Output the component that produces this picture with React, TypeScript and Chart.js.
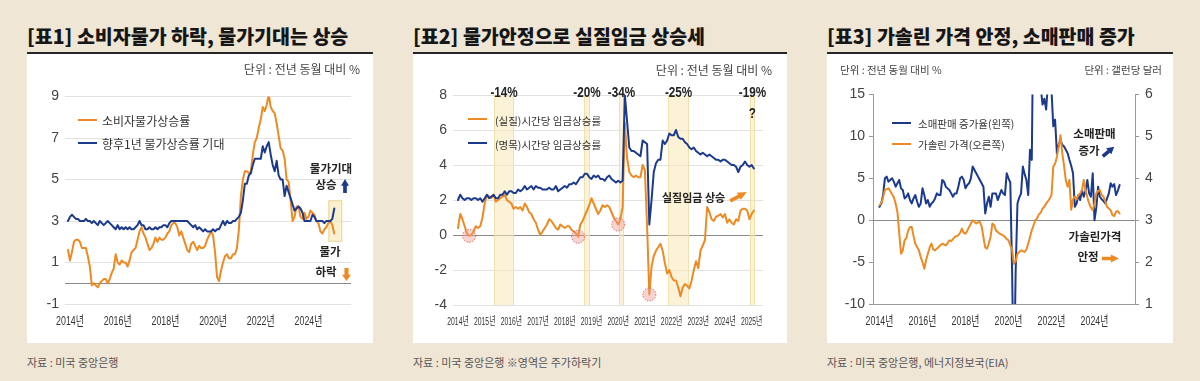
import React, { useEffect, useRef } from "react";
import { Chart, registerables } from "chart.js";
Chart.register(...registerables);

// ---------------- DATA ----------------
// Panel 1: monthly, Jan 2014 .. Mar 2025
const cpiYoY = [
  1.6, 1.1, 1.5, 2.0, 2.1, 2.1, 2.0, 1.7, 1.7, 1.7, 1.3, 0.8,
  -0.1, 0.0, -0.1, -0.2, 0.0, 0.1, 0.2, 0.2, 0.0, 0.2, 0.5, 0.7,
  1.4, 1.0, 0.9, 1.1, 1.0, 1.0, 0.8, 1.1, 1.5, 1.6, 1.7, 2.1,
  2.5, 2.7, 2.4, 2.2, 1.9, 1.6, 1.7, 1.9, 2.2, 2.0, 2.2, 2.1,
  2.1, 2.2, 2.4, 2.5, 2.8, 2.9, 2.9, 2.7, 2.3, 2.5, 2.2, 1.9,
  1.6, 1.5, 1.9, 2.0, 1.8, 1.6, 1.8, 1.7, 1.7, 1.8, 2.1, 2.3,
  2.5, 2.3, 1.5, 0.3, 0.1, 0.6, 1.0, 1.3, 1.4, 1.2, 1.2, 1.4,
  1.4, 1.7, 2.6, 4.2, 5.0, 5.4, 5.4, 5.3, 5.4, 6.2, 6.8, 7.0,
  7.5, 7.9, 8.5, 8.3, 8.6, 9.1, 8.5, 8.3, 8.2, 7.7, 7.1, 6.5,
  6.4, 6.0, 5.0, 4.9, 4.0, 3.0, 3.2, 3.7, 3.7, 3.2, 3.1, 3.4,
  3.1, 3.2, 3.5, 3.4, 3.3, 3.0, 2.9, 2.5, 2.4, 2.6, 2.7, 2.9,
  3.0, 2.8, 2.4,
];
const inflExpect1y = [
  3.0, 3.2, 3.3, 3.2, 3.1, 3.1, 3.0, 3.0, 3.0, 3.1, 3.0, 3.0,
  2.9, 3.0, 2.9, 2.8, 3.0, 2.9, 2.8, 2.9, 3.0, 2.9, 2.8, 2.7,
  2.6, 2.8, 2.6, 2.7, 2.6, 2.7, 2.6, 2.7, 2.6, 2.6, 2.7, 2.8,
  3.0, 2.8, 2.8, 2.6, 2.6, 2.7, 2.6, 2.6, 2.7, 2.6, 2.7, 2.7,
  2.8, 2.8, 2.7, 2.9, 3.0, 3.0, 3.0, 3.0, 3.0, 3.0, 3.0, 3.0,
  3.0, 2.9, 2.8, 2.7, 2.8, 2.6, 2.7, 2.6, 2.5, 2.6, 2.5, 2.5,
  2.5, 2.6, 2.5, 2.6, 2.6, 2.8, 3.0, 2.8, 3.0, 2.9, 2.9, 3.0,
  3.0, 3.1, 3.2, 3.4, 4.0, 4.8, 4.8, 5.2, 5.3, 5.7, 6.0, 6.0,
  6.0, 6.0, 6.6, 6.3, 6.6, 6.8, 6.2, 5.7, 5.4, 5.9, 5.2, 5.0,
  5.0, 4.2, 4.7, 4.4, 4.1, 3.8, 3.5, 3.6, 3.7, 3.6, 3.4, 3.0,
  3.0, 3.0, 3.0, 3.3, 3.2, 3.0, 3.0, 3.0, 3.0, 2.9, 3.0, 3.0,
  3.0, 3.1, 3.6,
];
const p1TickYears = [2014, 2016, 2018, 2020, 2022, 2024];
const p1BoxMonths = [131, 138];
const p1BoxValues = [2.0, 4.0];

// Panel 2: monthly, Jan 2014 .. Feb 2025
const realWage = [
  0.4, 1.2, 0.9, 0.5, 0.1, -0.05, 0.0, 0.2, 0.5, 0.4, 0.5, 1.0,
  1.8, 2.3, 2.2, 2.1, 2.3, 1.9, 2.0, 2.1, 2.2, 2.3, 2.0, 1.9,
  1.8, 1.5, 1.6, 1.5, 1.6, 1.4, 1.8, 1.6, 1.3, 1.2, 0.9, 0.7,
  0.3, 0.0, 0.2, 0.4, 0.6, 0.9, 0.8, 0.6, 0.4, 0.3, 0.6, 0.5,
  0.4, 0.5, 0.5, 0.3, 0.2, 0.1, -0.1, 0.6, 0.8, 1.1, 1.4, 1.7,
  2.1, 1.8, 1.5, 1.2, 1.4, 1.7, 1.6, 1.7, 1.6, 1.3, 1.0, 0.8,
  0.6, 0.9, 1.6, 6.4, 4.4, 3.6, 3.4, 3.3, 3.4, 3.3, 3.3, 4.0,
  3.7, 0.5, -3.4, -1.8, -1.2, -0.9, -0.7, -0.5, -0.9, -1.6, -2.2, -2.0,
  -2.4, -2.6, -2.6, -3.0, -3.5, -3.0, -2.8, -2.9, -3.05, -2.6, -2.0, -1.5,
  -1.9, -0.9, -0.6, -0.3, 1.6, 1.3, 0.9, 0.8, 1.05, 1.1, 1.2, 1.0,
  1.2, 0.7, 0.9, 0.7, 0.6, 0.9, 0.8, 1.4, 1.5, 1.5, 1.4, 0.9,
  1.2, 1.4,
];
const nominalWage = [
  2.0, 2.3, 2.1, 2.0, 2.1, 2.1, 2.0, 2.1, 2.1, 2.0, 2.1, 1.9,
  2.1, 2.3, 2.1, 2.2, 2.3, 2.1, 2.1, 2.3, 2.3, 2.5, 2.3, 2.5,
  2.5, 2.4, 2.4, 2.6, 2.5, 2.6, 2.8, 2.6, 2.7, 2.8, 2.6, 2.8,
  2.7, 2.7, 2.6, 2.6, 2.6, 2.7, 2.6, 2.6, 2.8, 2.5, 2.6, 2.7,
  2.8, 2.7, 2.9, 2.9, 3.0, 2.9, 3.1, 3.3, 3.3, 3.5, 3.5, 3.3,
  3.2, 3.4, 3.3, 3.4, 3.2, 3.2, 3.1, 3.3, 3.4, 3.2, 3.1, 3.0,
  3.1, 3.0, 3.1, 8.0, 6.5, 5.0, 4.8, 4.8, 4.7, 4.6, 4.5, 5.4,
  5.3, 5.2, 0.6, 2.0, 3.6, 4.1, 4.3, 4.3, 5.4, 5.2, 5.4, 5.8,
  5.7, 5.7, 6.0, 5.6, 5.5, 5.5, 5.3, 5.2, 5.0, 4.9, 5.0, 4.8,
  4.7, 4.6, 4.7, 4.6, 4.5, 4.6, 4.5, 4.4, 4.3, 4.3, 4.2, 4.3,
  4.3, 4.2, 4.1, 4.0, 4.0, 3.9, 3.6, 3.9, 4.0, 4.2, 4.0, 3.9,
  4.0, 3.8,
];
const p2TickYears = [2014, 2015, 2016, 2017, 2018, 2019, 2020, 2021, 2022, 2023, 2024, 2025];
const crashStart = [16.2, 56.6, 72.4, 94.5, 131.2];
const crashEnd = [25.2, 59.3, 74.6, 103.8, 133.5];
const crashLabels = ["-14%", "-20%", "-34%", "-25%", "-19%"];
const crashNotes = ["", "", "", "", "?"];
const troughMonths = [5, 54, 72, 86];

// Panel 3: monthly, Jan 2014 .. Mar 2025
const retailYoY = [
  1.6, 2.0, 3.0, 5.0, 5.2, 4.6, 4.8, 5.0, 4.6, 4.0, 4.4, 4.8,
  3.8, 3.6, 2.6, 2.8, 3.2, 2.4, 2.0, 2.6, 3.0, 2.2, 1.6, 2.0,
  3.8, 3.0, 2.0, 2.4, 1.6, 2.0, 2.2, 2.6, 3.2, 3.0, 3.0, 4.8,
  4.6, 4.0, 3.8, 3.6, 3.2, 2.8, 3.2, 3.2, 4.0, 5.0, 5.2, 4.8,
  3.8, 4.2, 4.4, 5.0, 6.4, 6.0, 5.6, 5.2, 4.8, 4.4, 4.0, 0.8,
  2.0, 2.8, 1.6, 3.2, 3.2, 3.2, 2.4, 3.0, 3.6, 3.2, 3.0, 5.6,
  5.0, 4.5, -6.0, -20.0, -6.0, 2.0, 2.7, 3.2, 6.4, 5.5, 4.8, 3.0,
  8.4, 7.2, 28.0, 51.0, 28.0, 18.0, 15.8, 13.8, 14.5, 13.2, 16.3, 17.0,
  15.5, 11.2, 12.0, 8.0, 9.0, 9.6, 9.0, 8.8, 8.4, 8.0, 7.2, 6.5,
  5.6, 1.6, 2.0, 3.0, 2.4, 3.6, 2.8, 3.5, 4.8, 3.2, 2.8, 5.6,
  0.0, 1.5, 4.0, 2.8, 2.5, 2.3, 2.0, 2.6, 3.2, 4.4, 4.0, 4.3,
  3.0, 3.5, 4.2,
];
const gasPrice = [
  3.36, 3.40, 3.55, 3.72, 3.74, 3.76, 3.70, 3.62, 3.55, 3.40, 3.20, 2.70,
  2.20, 2.28, 2.52, 2.58, 2.75, 2.84, 2.84, 2.62, 2.44, 2.36, 2.28, 2.12,
  2.00, 1.84, 2.05, 2.20, 2.35, 2.44, 2.30, 2.28, 2.32, 2.36, 2.40, 2.44,
  2.42, 2.40, 2.45, 2.52, 2.50, 2.55, 2.60, 2.62, 2.64, 2.70, 2.80, 2.70,
  2.68, 2.75, 2.84, 2.92, 3.00, 2.96, 2.92, 2.95, 2.96, 2.85, 2.60, 2.35,
  2.32, 2.45, 2.60, 2.92, 2.88, 2.75, 2.72, 2.68, 2.66, 2.64, 2.60, 2.55,
  2.52, 2.40, 2.30, 1.96, 2.02, 2.20, 2.24, 2.28, 2.26, 2.24, 2.30, 2.44,
  2.60, 2.76, 2.88, 3.00, 3.05, 3.14, 3.18, 3.28, 3.32, 3.40, 3.45, 3.52,
  3.60, 4.28, 4.35, 4.51, 4.75, 5.03, 4.60, 4.30, 3.95, 3.80, 3.96, 3.25,
  3.50, 3.56, 3.50, 3.60, 3.64, 3.72, 3.96, 3.72, 3.55, 3.40, 3.30, 3.24,
  3.40, 3.64, 3.70, 3.72, 3.60, 3.56, 3.45, 3.32, 3.28, 3.24, 3.12, 3.10,
  3.20, 3.22, 3.16,
];
const p3TickYears = [2014, 2016, 2018, 2020, 2022, 2024];

// ---------------- STYLE ----------------
const BG = "#EFE6D6";
const ORANGE = "#EC8A23";
const BLUE = "#1B3A8C";
const KR = '"Noto Sans CJK KR", "Noto Sans", sans-serif';
const NUM = '"Liberation Sans", Arial, sans-serif';
const NUM_KR = '"Liberation Sans", "Noto Sans CJK KR", sans-serif';

const toPoints = (arr: number[]) => arr.map((y, i) => ({ x: i, y }));

function zeroLine(scaleId: string, color: string) {
  return {
    id: "zeroLine",
    beforeDatasetsDraw(chart: any) {
      const { ctx, chartArea } = chart;
      const y = Math.round(chart.scales[scaleId].getPixelForValue(0)) + 0.5;
      ctx.save();
      ctx.strokeStyle = color;
      ctx.lineWidth = 1;
      ctx.beginPath();
      ctx.moveTo(chartArea.left, y);
      ctx.lineTo(chartArea.right, y);
      ctx.stroke();
      ctx.restore();
    },
  };
}

// condensed year tick labels, placed by the x scale
function yearLabels(years: number[], toMonth: (y: number) => number, size: number, sx: number, offset: number) {
  return {
    id: "yearLabels",
    afterDraw(chart: any) {
      const { ctx, chartArea, scales } = chart;
      ctx.save();
      ctx.font = `${size}px ${NUM_KR}`;
      ctx.fillStyle = "#333";
      ctx.textAlign = "center";
      ctx.textBaseline = "middle";
      years.forEach((y) => {
        const px = scales.x.getPixelForValue(toMonth(y));
        ctx.save();
        ctx.translate(px, chartArea.bottom + offset);
        ctx.scale(sx, 1);
        ctx.fillText(`${y}년`, 0, 0);
        ctx.restore();
      });
      ctx.restore();
    },
  };
}

function xAxis(min: number, max: number, height: number, border = false) {
  return {
    type: "linear",
    min,
    max,
    ticks: { display: false },
    grid: { display: false, drawTicks: false },
    border: { display: border, color: "#9a9a9a", width: 1 },
    afterFit: (s: any) => {
      s.height = height;
    },
  };
}

function Txt(props: any) {
  const { x, y, s, w = 400, a = "left", c = "#222", f = KR, k = 0.66, children } = props;
  const style: any = {
    position: "absolute",
    top: y - s * k,
    fontSize: s,
    fontWeight: w,
    color: c,
    fontFamily: f,
    lineHeight: `${s * 1.2}px`,
    whiteSpace: "nowrap",
  };
  if (a === "left") style.left = x;
  else if (a === "right") style.right = 1200 - x;
  else {
    style.left = x;
    style.transform = "translateX(-50%)";
  }
  return <div style={style}>{children}</div>;
}

function Arrow({ cx, cy, len, wid, angle, color }: any) {
  const s = Math.max(len, wid) + 6;
  const L = len, H = wid, sh = H * 0.46, hd = L * 0.48;
  const pts = [
    [-L / 2, -sh / 2], [L / 2 - hd, -sh / 2], [L / 2 - hd, -H / 2], [L / 2, 0],
    [L / 2 - hd, H / 2], [L / 2 - hd, sh / 2], [-L / 2, sh / 2],
  ];
  return (
    <svg style={{ position: "absolute", left: cx - s / 2, top: cy - s / 2 }} width={s} height={s} viewBox={`${-s / 2} ${-s / 2} ${s} ${s}`}>
      <polygon points={pts.map((p) => p.join(",")).join(" ")} fill={color} transform={`rotate(${angle})`} />
    </svg>
  );
}

function LegendLine({ x, y, w, color }: any) {
  return <div style={{ position: "absolute", left: x, top: y - 1.25, width: w, height: 2.5, background: color }} />;
}

function Frame({ x, w, title }: any) {
  return (
    <>
      <Txt x={x} y={36.5} s={19.5} w={800} c="#161616">{title}</Txt>
      <div style={{ position: "absolute", left: x, top: 52, width: w, height: 2, background: "#262626" }} />
      <div style={{ position: "absolute", left: x, top: 54, width: w, height: 289, background: "#ffffff" }} />
    </>
  );
}

export default function App() {
  const c1 = useRef<HTMLCanvasElement>(null);
  const c2 = useRef<HTMLCanvasElement>(null);
  const c3 = useRef<HTMLCanvasElement>(null);

  useEffect(() => {
    const common = {
      animation: false,
      responsive: false,
      maintainAspectRatio: false,
      devicePixelRatio: 1,
      plugins: { legend: { display: false }, tooltip: { enabled: false } },
      elements: { point: { radius: 0 }, line: { tension: 0, borderJoinStyle: "round", borderCapStyle: "round" } },
    };

    // ---- Panel 1 ----
    const boxPlugin = {
      id: "boxPlugin",
      beforeDatasetsDraw(chart: any) {
        const { ctx, scales } = chart;
        const x0 = scales.x.getPixelForValue(p1BoxMonths[0]);
        const x1 = scales.x.getPixelForValue(p1BoxMonths[1]);
        const y0 = scales.y.getPixelForValue(p1BoxValues[1]);
        const y1 = scales.y.getPixelForValue(p1BoxValues[0]);
        ctx.save();
        ctx.fillStyle = "rgba(248,236,196,0.8)";
        ctx.fillRect(x0, y0, x1 - x0, y1 - y0);
        ctx.strokeStyle = "rgba(232,212,150,0.9)";
        ctx.lineWidth = 1;
        ctx.strokeRect(x0 + 0.5, y0 + 0.5, x1 - x0 - 1, y1 - y0 - 1);
        ctx.restore();
      },
    };
    const ch1 = new Chart(c1.current as any, {
      type: "line",
      data: {
        datasets: [
          { data: toPoints(inflExpect1y), borderColor: BLUE, borderWidth: 2 },
          { data: toPoints(cpiYoY), borderColor: ORANGE, borderWidth: 2 },
        ],
      },
      options: {
        ...common,
        layout: { padding: { left: 0, right: 22, top: 42.5, bottom: 0 } },
        scales: {
          x: xAxis(-1.5, 142.4, 39),
          y: {
            min: -1, max: 9,
            ticks: { stepSize: 2, color: "#444", font: { family: NUM, size: 14 }, padding: 6 },
            grid: { color: "#e2e2e2", drawTicks: false },
            border: { display: false },
            afterFit: (s: any) => { s.width = 38; },
          },
        },
      } as any,
      plugins: [zeroLine("y", "#8a8a8a"), boxPlugin, yearLabels(p1TickYears, (y) => (y - 2014) * 12 + 1, 13, 0.68, 17.5)],
    } as any);

    // ---- Panel 2 ----
    const bandPlugin = {
      id: "bandPlugin",
      beforeDatasetsDraw(chart: any) {
        const { ctx, scales, chartArea } = chart;
        ctx.save();
        crashStart.forEach((s, i) => {
          const x0 = scales.x.getPixelForValue(s);
          const x1 = scales.x.getPixelForValue(crashEnd[i]);
          ctx.fillStyle = "rgba(247,232,182,0.55)";
          ctx.fillRect(x0, chartArea.top, x1 - x0, chartArea.bottom - chartArea.top);
          ctx.strokeStyle = "rgba(238,220,160,0.8)";
          ctx.lineWidth = 1;
          ctx.beginPath();
          ctx.moveTo(Math.round(x0) + 0.5, chartArea.top);
          ctx.lineTo(Math.round(x0) + 0.5, chartArea.bottom);
          ctx.moveTo(Math.round(x1) - 0.5, chartArea.top);
          ctx.lineTo(Math.round(x1) - 0.5, chartArea.bottom);
          ctx.stroke();
        });
        ctx.restore();
      },
      afterDatasetsDraw(chart: any) {
        const { ctx, scales, chartArea } = chart;
        ctx.save();
        troughMonths.forEach((m) => {
          const x = scales.x.getPixelForValue(m);
          const y = scales.y.getPixelForValue(realWage[m]);
          ctx.beginPath();
          ctx.arc(x, y, 6.5, 0, Math.PI * 2);
          ctx.fillStyle = "rgba(238,150,140,0.42)";
          ctx.fill();
          ctx.setLineDash([1.2, 1.6]);
          ctx.strokeStyle = "#d9534f";
          ctx.lineWidth = 1;
          ctx.stroke();
          ctx.setLineDash([]);
        });
        ctx.fillStyle = "#222";
        ctx.textAlign = "center";
        ctx.textBaseline = "middle";
        ctx.font = `bold 15px ${NUM}`;
        crashStart.forEach((s, i) => {
          const xc = (scales.x.getPixelForValue(s) + scales.x.getPixelForValue(crashEnd[i])) / 2;
          ctx.save();
          ctx.translate(xc, chartArea.top - 2);
          ctx.scale(0.78, 1);
          ctx.fillText(crashLabels[i], 0, 0);
          if (crashNotes[i]) ctx.fillText(crashNotes[i], 0, 21);
          ctx.restore();
        });
        ctx.restore();
      },
    };
    const ch2 = new Chart(c2.current as any, {
      type: "line",
      data: {
        datasets: [
          { data: toPoints(nominalWage), borderColor: BLUE, borderWidth: 2 },
          { data: toPoints(realWage), borderColor: ORANGE, borderWidth: 2 },
        ],
      },
      options: {
        ...common,
        layout: { padding: { left: 0, right: 24, top: 41, bottom: 0 } },
        scales: {
          x: xAxis(-2.25, 137.1, 38),
          y: {
            min: -4, max: 8,
            ticks: { stepSize: 2, color: "#444", font: { family: NUM, size: 14 }, padding: 6 },
            grid: { color: (c: any) => (c.tick && c.tick.value === 0 ? "#8a8a8a" : "#e2e2e2"), drawTicks: false },
            border: { display: false },
            afterFit: (s: any) => { s.width = 40; },
          },
        },
      } as any,
      plugins: [bandPlugin, yearLabels(p2TickYears, (y) => (y - 2014) * 12, 11, 0.62, 16.7)],
    } as any);

    // ---- Panel 3 ----
    const ch3 = new Chart(c3.current as any, {
      type: "line",
      data: {
        datasets: [
          { data: toPoints(gasPrice), borderColor: ORANGE, borderWidth: 2, yAxisID: "y2" },
          { data: toPoints(retailYoY), borderColor: BLUE, borderWidth: 2, yAxisID: "y" },
        ],
      },
      options: {
        ...common,
        layout: { padding: { left: 0, right: 0, top: 40.5, bottom: 0 } },
        scales: {
          x: xAxis(-3.63, 142.6, 39, true),
          y: {
            position: "left",
            min: -10, max: 15,
            ticks: { stepSize: 5, color: "#444", font: { family: NUM, size: 14 }, padding: 4 },
            grid: { drawOnChartArea: false, drawTicks: true, tickLength: 4, color: "#9a9a9a" },
            border: { display: true, color: "#9a9a9a", width: 1 },
            afterFit: (s: any) => { s.width = 46; },
          },
          y2: {
            position: "right",
            min: 1, max: 6,
            ticks: { stepSize: 1, color: "#444", font: { family: NUM, size: 14 }, padding: 6 },
            grid: { drawOnChartArea: false, drawTicks: true, tickLength: 4, color: "#9a9a9a" },
            border: { display: true, color: "#9a9a9a", width: 1 },
            afterFit: (s: any) => { s.width = 38; },
          },
        },
      } as any,
      plugins: [zeroLine("y", "#8a8a8a"), yearLabels(p3TickYears, (y) => (y - 2014) * 12, 13, 0.68, 17.7)],
    } as any);

    return () => {
      ch1.destroy();
      ch2.destroy();
      ch3.destroy();
    };
  }, []);

  const cv = (left: number, width: number) => ({ position: "absolute" as const, left, top: 54, width, height: 289 });

  return (
    <div style={{ position: "absolute", left: 0, top: 0, width: 1200, height: 381, background: BG, overflow: "hidden", fontFamily: KR }}>
      {/* Panel 1 */}
      <Frame x={27} w={346} title="[표1] 소비자물가 하락, 물가기대는 상승" />
      <canvas ref={c1} width={346} height={289} style={cv(27, 346)} />
      <Txt x={360} y={70} s={12} a="right" c="#444">단위 : 전년 동월 대비 %</Txt>
      <LegendLine x={78} y={120} w={19} color={ORANGE} />
      <Txt x={102} y={121.5} s={12} c="#333">소비자물가상승률</Txt>
      <LegendLine x={78} y={143} w={19} color={BLUE} />
      <Txt x={102} y={144.5} s={12} c="#333">향후1년 물가상승률 기대</Txt>
      <Txt x={331} y={170} s={11.5} w={700} a="center">물가기대</Txt>
      <Txt x={326} y={186} s={11.5} w={700} a="center">상승</Txt>
      <Arrow cx={344.5} cy={186} len={14} wid={8} angle={-90} color={BLUE} />
      <Txt x={330} y={253} s={11.5} w={700} a="center">물가</Txt>
      <Txt x={326} y={273} s={11.5} w={700} a="center">하락</Txt>
      <Arrow cx={346} cy={274} len={13} wid={9} angle={90} color={ORANGE} />
      <Txt x={27} y={363} s={11} c="#555">자료 : 미국 중앙은행</Txt>

      {/* Panel 2 */}
      <Frame x={413} w={374} title="[표2] 물가안정으로 실질임금 상승세" />
      <canvas ref={c2} width={374} height={289} style={cv(413, 374)} />
      <Txt x={772} y={71} s={12} a="right" c="#444">단위 : 전년 동월 대비 %</Txt>
      <LegendLine x={468} y={119} w={19} color={ORANGE} />
      <Txt x={495} y={122} s={10.5} c="#333">(실질)시간당 임금상승률</Txt>
      <LegendLine x={468} y={143} w={19} color={BLUE} />
      <Txt x={495} y={146} s={10.5} c="#333">(명목)시간당 임금상승률</Txt>
      <Txt x={662} y={198} s={11} w={700}>실질임금 상승</Txt>
      <Arrow cx={738} cy={196} len={19} wid={8} angle={-28} color={ORANGE} />
      <Txt x={413} y={363} s={11} c="#555">자료 : 미국 중앙은행 ※영역은 주가하락기</Txt>

      {/* Panel 3 */}
      <Frame x={827} w={346} title="[표3] 가솔린 가격 안정, 소매판매 증가" />
      <canvas ref={c3} width={346} height={289} style={cv(827, 346)} />
      <Txt x={840} y={71} s={10.5} c="#444">단위 : 전년 동월 대비 %</Txt>
      <Txt x={1162} y={71} s={10.5} a="right" c="#444">단위 : 갤런당 달러</Txt>
      <LegendLine x={892} y={123} w={19} color={BLUE} />
      <Txt x={918} y={124.5} s={10.5} c="#333">소매판매 증가율(왼쪽)</Txt>
      <LegendLine x={892} y={144} w={19} color={ORANGE} />
      <Txt x={918} y={145.5} s={10.5} c="#333">가솔린 가격(오른쪽)</Txt>
      <Txt x={1094.5} y={135} s={11.5} w={700} a="center">소매판매</Txt>
      <Txt x={1089} y={152} s={11.5} w={700} a="center">증가</Txt>
      <Arrow cx={1108.5} cy={151.5} len={15} wid={8} angle={-40} color={BLUE} />
      <Txt x={1095} y={238} s={11.5} w={700} a="center">가솔린가격</Txt>
      <Txt x={1088} y={258} s={11.5} w={700} a="center">안정</Txt>
      <Arrow cx={1110} cy={258.5} len={17} wid={8} angle={0} color={ORANGE} />
      <Txt x={827} y={363} s={11} c="#555">자료 : 미국 중앙은행, 에너지정보국(EIA)</Txt>
    </div>
  );
}
